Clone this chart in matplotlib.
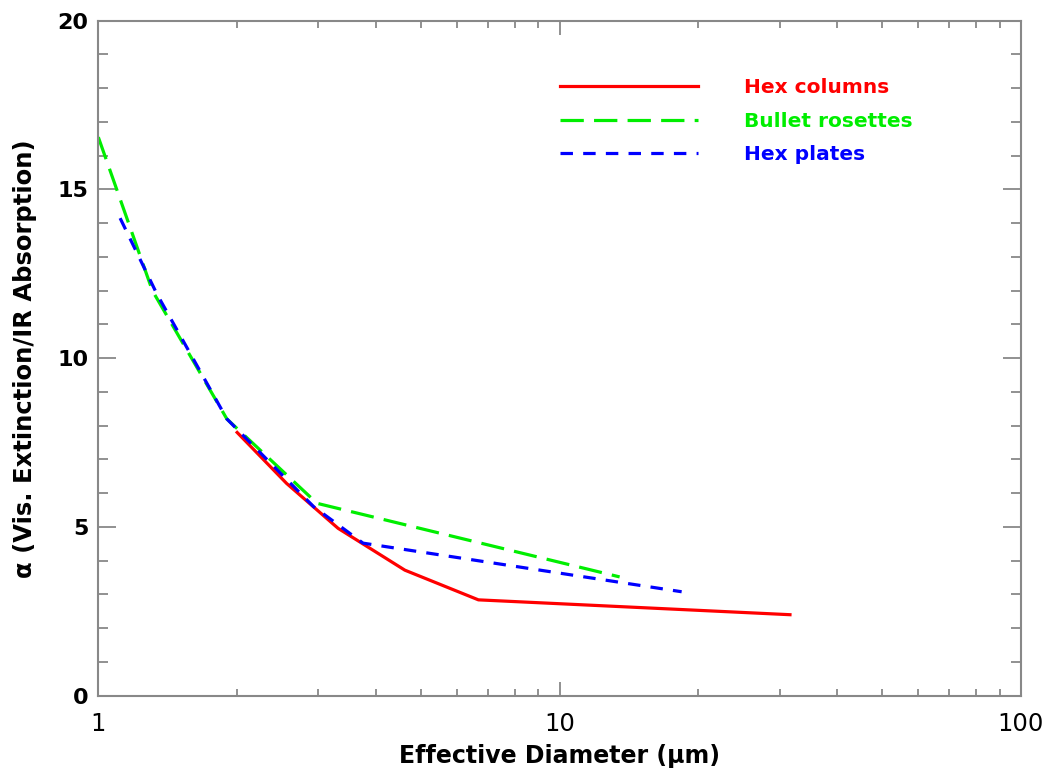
import matplotlib.pyplot as plt
from matplotlib.ticker import MultipleLocator, FixedLocator, FixedFormatter

plt.rcParams['font.family'] = ['DejaVu Sans']

# values
col_d = [2.0, 2.56, 3.31, 4.62, 6.67, 31.6]
col_a = [7.8, 6.29, 4.96, 3.72, 2.84, 2.4]

ros_d = [1.0, 1.31, 1.9, 2.98, 13.5]
ros_a = [16.55, 12.0, 8.2, 5.7, 3.52]

pla_d = [1.115, 1.34, 1.9, 2.93, 3.75, 18.4]
pla_a = [14.15, 11.9, 8.2, 5.6, 4.52, 3.08]

labels = ["Hex columns", "Bullet rosettes", "Hex plates"]
colors = ["#ff0000", "#00ee00", "#0000ff"]

fig = plt.figure(figsize=(10.47, 7.73), dpi=100)
ax = fig.add_axes([0.0939, 0.1, 0.881, 0.8732])

lw = 2.3
ax.plot(col_d, col_a, color=colors[0], lw=lw, label=labels[0])
ax.plot(ros_d, ros_a, color=colors[1], lw=lw, dashes=(7.3, 3.2), label=labels[1])
ax.plot(pla_d, pla_a, color=colors[2], lw=lw, dashes=(3.9, 3.2), label=labels[2])

ax.set_xscale("log")
ax.set_xlim(1, 100)
ax.set_ylim(0, 20)
ax.yaxis.set_major_locator(MultipleLocator(5))
ax.yaxis.set_minor_locator(MultipleLocator(1))
ax.xaxis.set_major_locator(FixedLocator([1, 10, 100]))
ax.xaxis.set_major_formatter(FixedFormatter(["1", "10", "100"]))

gray = "#888888"
for s in ax.spines.values():
    s.set_color(gray)
    s.set_linewidth(1.5)
ax.tick_params(axis="both", which="both", direction="in", top=True, right=True,
               color=gray, width=1.3)
ax.tick_params(axis="y", which="major", length=13, labelsize=16, pad=7)
ax.tick_params(axis="y", which="minor", length=7)
ax.tick_params(axis="x", which="major", length=10, labelsize=17.5, pad=12)
ax.tick_params(axis="x", which="minor", length=5)
for t in ax.get_yticklabels():
    t.set_fontweight("bold")

xl = ax.set_xlabel("Effective Diameter (\u03bcm)", fontsize=17, fontweight="bold", va="center")
ax.xaxis.set_label_coords(0.5, -0.089)
yl = ax.set_ylabel("\u03b1 (Vis. Extinction/IR Absorption)", fontsize=17.5, fontweight="bold", va="center")
ax.yaxis.set_label_coords(-0.08, 0.5)

leg = ax.legend(loc="upper left", bbox_to_anchor=(0.5005, 0.915), frameon=False,
                borderpad=0, borderaxespad=0, handlelength=6.85, handletextpad=2.3,
                labelspacing=0.72, prop={"size": 14.5, "weight": "bold"})
for t, c in zip(leg.get_texts(), colors):
    t.set_color(c)

fig.savefig("out.png", dpi=100)
